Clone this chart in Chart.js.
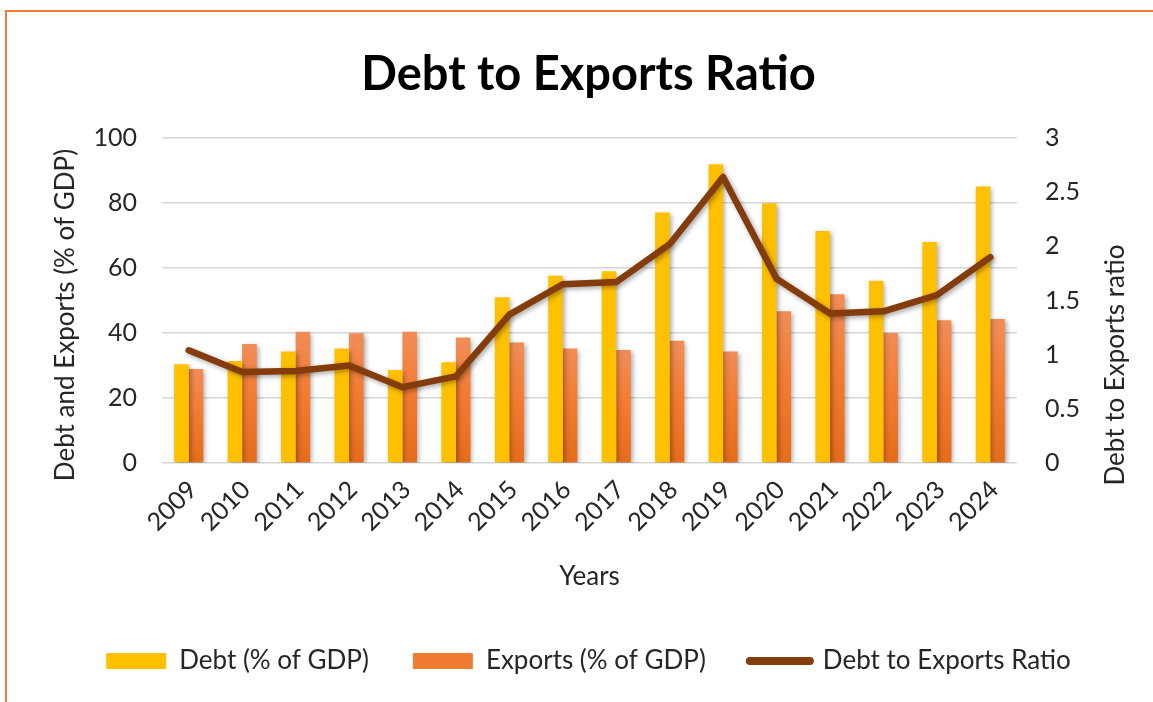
<!DOCTYPE html>
<html>
<head>
<meta charset="utf-8">
<script src="https://cdn.jsdelivr.net/npm/chart.js@4.4.1/dist/chart.umd.min.js"></script>
<style>
  html, body { margin: 0; padding: 0; background: #fff; overflow: hidden; }
  .frame {
    position: absolute; left: 5px; top: 10px; width: 1300px; height: 900px;
    border-left: 2.5px solid #ED7D31; border-top: 2.5px solid #ED7D31;
  }
  .wrap { position: absolute; left: 0; top: 0; width: 1153px; height: 702px; }
</style>
</head>
<body>
<div class="frame"></div>
<div class="wrap"><canvas id="ratioChart" width="1153" height="702"></canvas></div>
<script>
const years = ["2009", "2010", "2011", "2012", "2013", "2014", "2015", "2016",
  "2017", "2018", "2019", "2020", "2021", "2022", "2023", "2024"]
const debtPct = [30.4, 31.4, 34.3, 35.2, 28.6, 31.0, 51.0, 57.6, 59.0, 77.1, 91.9, 79.9, 71.4, 56.1, 68.0, 85.1]
const exportsPct = [28.9, 36.6, 40.4, 39.9, 40.4, 38.6, 37.1, 35.2, 34.8, 37.6, 34.3, 46.7, 51.9, 40.0, 43.9, 44.3]
const debtToExports = [1.04, 0.84, 0.85, 0.9, 0.7, 0.8, 1.37, 1.65, 1.67, 2.02, 2.64, 1.7, 1.38, 1.4, 1.55, 1.9]

const FONT = "Lato"
const TEXT = "#262626"

// each exports bar gets its own top-to-bottom gradient
function exportsFill(c) {
  const chart = c.chart
  const y = chart.scales && chart.scales.y
  if (c.type !== "data" || !y) return "#F07C33"
  const top = y.getPixelForValue(c.raw)
  const bottom = y.getPixelForValue(0)
  if (!isFinite(top) || !isFinite(bottom) || bottom - top < 1) return "#F07C33"
  const g = chart.ctx.createLinearGradient(0, top, 0, bottom)
  g.addColorStop(0, "#F18D58")
  g.addColorStop(0.45, "#F37C32")
  g.addColorStop(1, "#E56C1B")
  return g
}

// soft drop shadow under bars and the ratio line
const shadowPlugin = {
  id: "shadow",
  beforeDatasetsDraw(chart) {
    const ctx = chart.ctx
    ctx.save()
    ctx.shadowColor = "rgba(0, 0, 0, 0.35)"
    ctx.shadowBlur = 5
    ctx.shadowOffsetX = 2
    ctx.shadowOffsetY = 2
  },
  afterDatasetsDraw(chart) {
    chart.ctx.restore()
  },
}

// vertical axis titles, both read bottom-to-top
const axisTitles = {
  id: "axisTitles",
  afterDraw(chart) {
    const ctx = chart.ctx
    const area = chart.chartArea
    const put = (text, x, y) => {
      ctx.save()
      ctx.translate(x, y)
      ctx.rotate(-Math.PI / 2)
      ctx.font = `26px ${FONT}`
      ctx.fillStyle = TEXT
      ctx.textAlign = "center"
      ctx.textBaseline = "middle"
      ctx.fillText(text, 0, 0)
      ctx.restore()
    }
    put("Debt and Exports (% of GDP)", area.left - 96, area.bottom - 148)
    put("Debt to Exports ratio", area.right + 99, area.bottom - 98)
  },
}

const ctx = document.getElementById("ratioChart").getContext("2d")
new Chart(ctx, {
  data: {
    labels: years,
    datasets: [
      {
        type: "bar",
        label: "Debt (% of GDP)",
        data: debtPct,
        backgroundColor: "#FFC000",
        borderWidth: 0,
        yAxisID: "y",
        order: 2,
      },
      {
        type: "bar",
        label: "Exports (% of GDP)",
        data: exportsPct,
        backgroundColor: exportsFill,
        borderWidth: 0,
        yAxisID: "y",
        order: 2,
      },
      {
        type: "line",
        label: "Debt to Exports Ratio",
        data: debtToExports,
        borderColor: "#843C0C",
        backgroundColor: "#843C0C",
        borderWidth: 6.5,
        borderCapStyle: "round",
        borderJoinStyle: "round",
        pointRadius: 0,
        tension: 0,
        yAxisID: "y1",
        order: 1,
      },
    ],
  },
  options: {
    responsive: false,
    animation: false,
    layout: { padding: { left: 24, right: 0, top: 0, bottom: 18 } },
    datasets: {
      bar: { categoryPercentage: 0.545, barPercentage: 1 },
    },
    plugins: {
      title: {
        display: true,
        text: "Debt to Exports Ratio",
        color: "#000",
        font: { family: FONT, size: 47, weight: "bold", lineHeight: 1.2 },
        padding: { top: 46.8, bottom: 34.8 },
      },
      legend: {
        display: true,
        position: "bottom",
        labels: {
          usePointStyle: true,
          pointStyleWidth: 60,
          boxHeight: 16,
          padding: 44,
          color: TEXT,
          font: { family: FONT, size: 26 },
          sort: (a, b) => a.datasetIndex - b.datasetIndex,
          generateLabels(chart) {
            const items = Chart.defaults.plugins.legend.labels.generateLabels(chart)
            items.forEach(it => {
              if (it.datasetIndex === 2) {
                it.pointStyle = "line"
                it.lineWidth = 8
                it.lineCap = "round"
              } else {
                it.pointStyle = "rect"
                it.lineWidth = 0
                if (it.datasetIndex === 1) it.fillStyle = "#F07C33"
              }
            })
            return items
          },
        },
      },
      tooltip: { enabled: false },
    },
    scales: {
      x: {
        grid: { display: false },
        border: { display: false },
        ticks: {
          color: TEXT,
          font: { family: FONT, size: 25 },
          minRotation: 45,
          maxRotation: 45,
          autoSkip: false,
          padding: 4,
          labelOffset: 4,
        },
        title: {
          display: true,
          text: "Years",
          color: TEXT,
          font: { family: FONT, size: 26 },
          padding: { top: 0, bottom: 11.4 },
        },
        afterFit: s => { s.height = 141 },
      },
      y: {
        position: "left",
        min: 0,
        max: 100,
        ticks: {
          stepSize: 20,
          color: TEXT,
          font: { family: FONT, size: 25 },
          padding: 25,
        },
        grid: { color: "#D6D6D6", lineWidth: 1.5, drawTicks: false },
        border: { display: false },
        afterFit: s => { s.width = 138 },
      },
      y1: {
        position: "right",
        min: 0,
        max: 3,
        ticks: {
          stepSize: 0.5,
          color: TEXT,
          font: { family: FONT, size: 25 },
          padding: 28,
          callback: v => String(+v.toFixed(1)),
        },
        grid: { drawOnChartArea: false, drawTicks: false },
        border: { display: false },
        afterFit: s => { s.width = 136 },
      },
    },
  },
  plugins: [shadowPlugin, axisTitles],
})
</script>
</body>
</html>
